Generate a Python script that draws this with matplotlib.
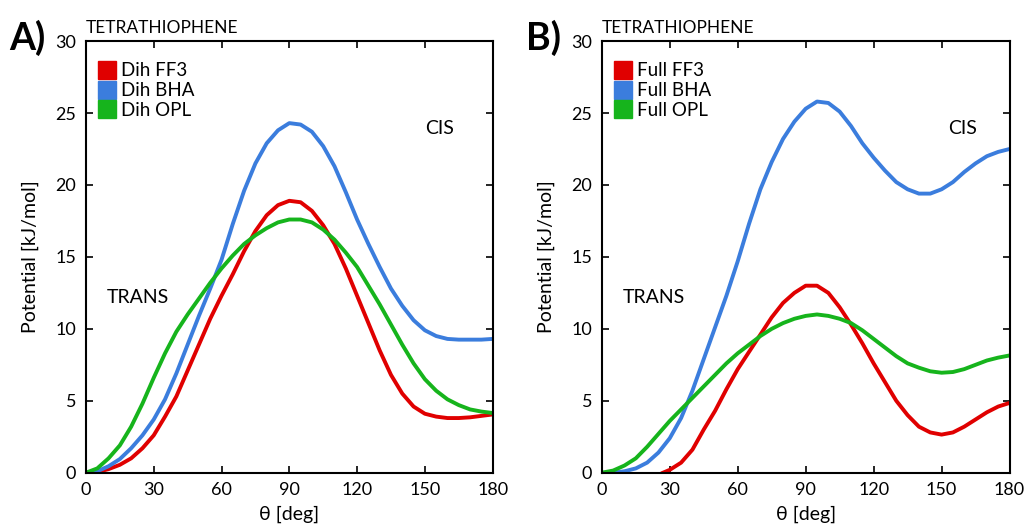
import numpy as np
import matplotlib.pyplot as plt
from matplotlib.lines import Line2D

plt.rcParams['font.family'] = ['Lato', 'DejaVu Sans']

# left panel (A): dihedral-only potentials
theta = list(range(0, 181, 5))
dih_ff3 = [0, 0.05, 0.25, 0.55, 1.0, 1.7, 2.6, 3.9, 5.3, 7.1, 8.9, 10.7, 12.3, 13.8, 15.4,
           16.8, 17.9, 18.6, 18.9, 18.8, 18.2, 17.2, 15.9, 14.2, 12.3, 10.4, 8.5, 6.8,
           5.5, 4.6, 4.1, 3.9, 3.8, 3.8, 3.85, 3.95, 4.05]
dih_bha = [0, 0.1, 0.45, 0.95, 1.7, 2.6, 3.7, 5.1, 6.9, 8.9, 10.9, 12.8, 14.8, 17.3, 19.6,
           21.5, 22.9, 23.8, 24.3, 24.2, 23.7, 22.7, 21.3, 19.5, 17.6, 15.9, 14.3, 12.8,
           11.6, 10.6, 9.9, 9.5, 9.3, 9.25, 9.25, 9.25, 9.3]
dih_opl = [0, 0.3, 1.0, 1.9, 3.2, 4.8, 6.6, 8.3, 9.8, 11.0, 12.1, 13.2, 14.2, 15.1, 15.9,
           16.5, 17.0, 17.4, 17.6, 17.6, 17.4, 16.9, 16.2, 15.3, 14.3, 13.0, 11.7, 10.3,
           8.9, 7.6, 6.5, 5.7, 5.1, 4.7, 4.4, 4.25, 4.15]

# right panel (B): full potentials
theta_ff3 = [27] + list(range(30, 181, 5))
full_ff3 = [0, 0.2, 0.7, 1.6, 3.0, 4.3, 5.8, 7.2, 8.4, 9.6, 10.8, 11.8, 12.5, 13.0, 13.0,
            12.5, 11.5, 10.3, 9.0, 7.6, 6.3, 5.0, 4.0, 3.2, 2.8, 2.65, 2.8, 3.2, 3.7,
            4.2, 4.6, 4.85]
full_bha = [0, 0, 0.1, 0.3, 0.7, 1.4, 2.4, 3.8, 5.7, 7.9, 10.1, 12.3, 14.7, 17.3, 19.7,
            21.6, 23.2, 24.4, 25.3, 25.8, 25.7, 25.1, 24.1, 22.9, 21.9, 21.0, 20.2, 19.7,
            19.4, 19.4, 19.7, 20.2, 20.9, 21.5, 22.0, 22.3, 22.5]
full_opl = [0, 0.15, 0.5, 1.0, 1.8, 2.7, 3.6, 4.4, 5.2, 6.0, 6.8, 7.6, 8.3, 8.9, 9.5,
            10.0, 10.4, 10.7, 10.9, 11.0, 10.9, 10.7, 10.4, 9.9, 9.3, 8.7, 8.1, 7.6,
            7.3, 7.05, 6.95, 7.0, 7.2, 7.5, 7.8, 8.0, 8.15]

red = '#e00000'
blue = '#3b7ddd'
green = '#16b41c'

fig = plt.figure(figsize=(10.27, 5.27), dpi=100)
axA = fig.add_axes([0.0837, 0.103, 0.396, 0.819])
axB = fig.add_axes([0.586, 0.103, 0.397, 0.819])


def style_ax(ax):
    ax.set_xlim(0, 180)
    ax.set_ylim(0, 30)
    ax.set_xticks(range(0, 181, 30))
    ax.set_yticks(range(0, 31, 5))
    ax.tick_params(direction='in', top=True, right=True, length=5, width=1.2,
                   labelsize=13, pad=7)
    for sp in ax.spines.values():
        sp.set_linewidth(1.5)
    ax.set_xlabel('θ [deg]', fontsize=14, labelpad=5)
    ax.set_ylabel('Potential [kJ/mol]', fontsize=14, labelpad=12)
    ax.text(0, 1.012, 'TETRATHIOPHENE', transform=ax.transAxes, fontsize=12.5,
            ha='left', va='bottom')
    ax.text(23, 12.2, 'TRANS', fontsize=14, ha='center', va='center')


def add_legend(ax, names):
    handles = [Line2D([], [], marker='s', linestyle='none', markersize=13, color=c)
               for c in (red, blue, green)]
    ax.legend(handles, names, loc='upper left', bbox_to_anchor=(-0.012, 0.992),
              frameon=False, fontsize=13.5, handletextpad=0.3, labelspacing=0.15,
              borderaxespad=0.55, handlelength=0.9)


lw = 2.8
axA.plot(theta, dih_ff3, color=red, lw=lw, solid_joinstyle='round')
axA.plot(theta, dih_bha, color=blue, lw=lw, solid_joinstyle='round')
axA.plot(theta, dih_opl, color=green, lw=lw, solid_joinstyle='round')
style_ax(axA)
add_legend(axA, ['Dih FF3', 'Dih BHA', 'Dih OPL'])
axA.text(156.6, 23.9, 'CIS', fontsize=14, ha='center', va='center')

axB.plot(theta_ff3, full_ff3, color=red, lw=lw, solid_joinstyle='round')
axB.plot(theta, full_bha, color=blue, lw=lw, solid_joinstyle='round')
axB.plot(theta, full_opl, color=green, lw=lw, solid_joinstyle='round')
style_ax(axB)
add_legend(axB, ['Full FF3', 'Full BHA', 'Full OPL'])
axB.text(159.2, 23.9, 'CIS', fontsize=14, ha='center', va='center')

fig.text(0.009, 0.905, 'A)', fontsize=27, fontweight='bold', ha='left', va='baseline')
fig.text(0.512, 0.905, 'B)', fontsize=27, fontweight='bold', ha='left', va='baseline')

fig.savefig('out.png', dpi=100)
